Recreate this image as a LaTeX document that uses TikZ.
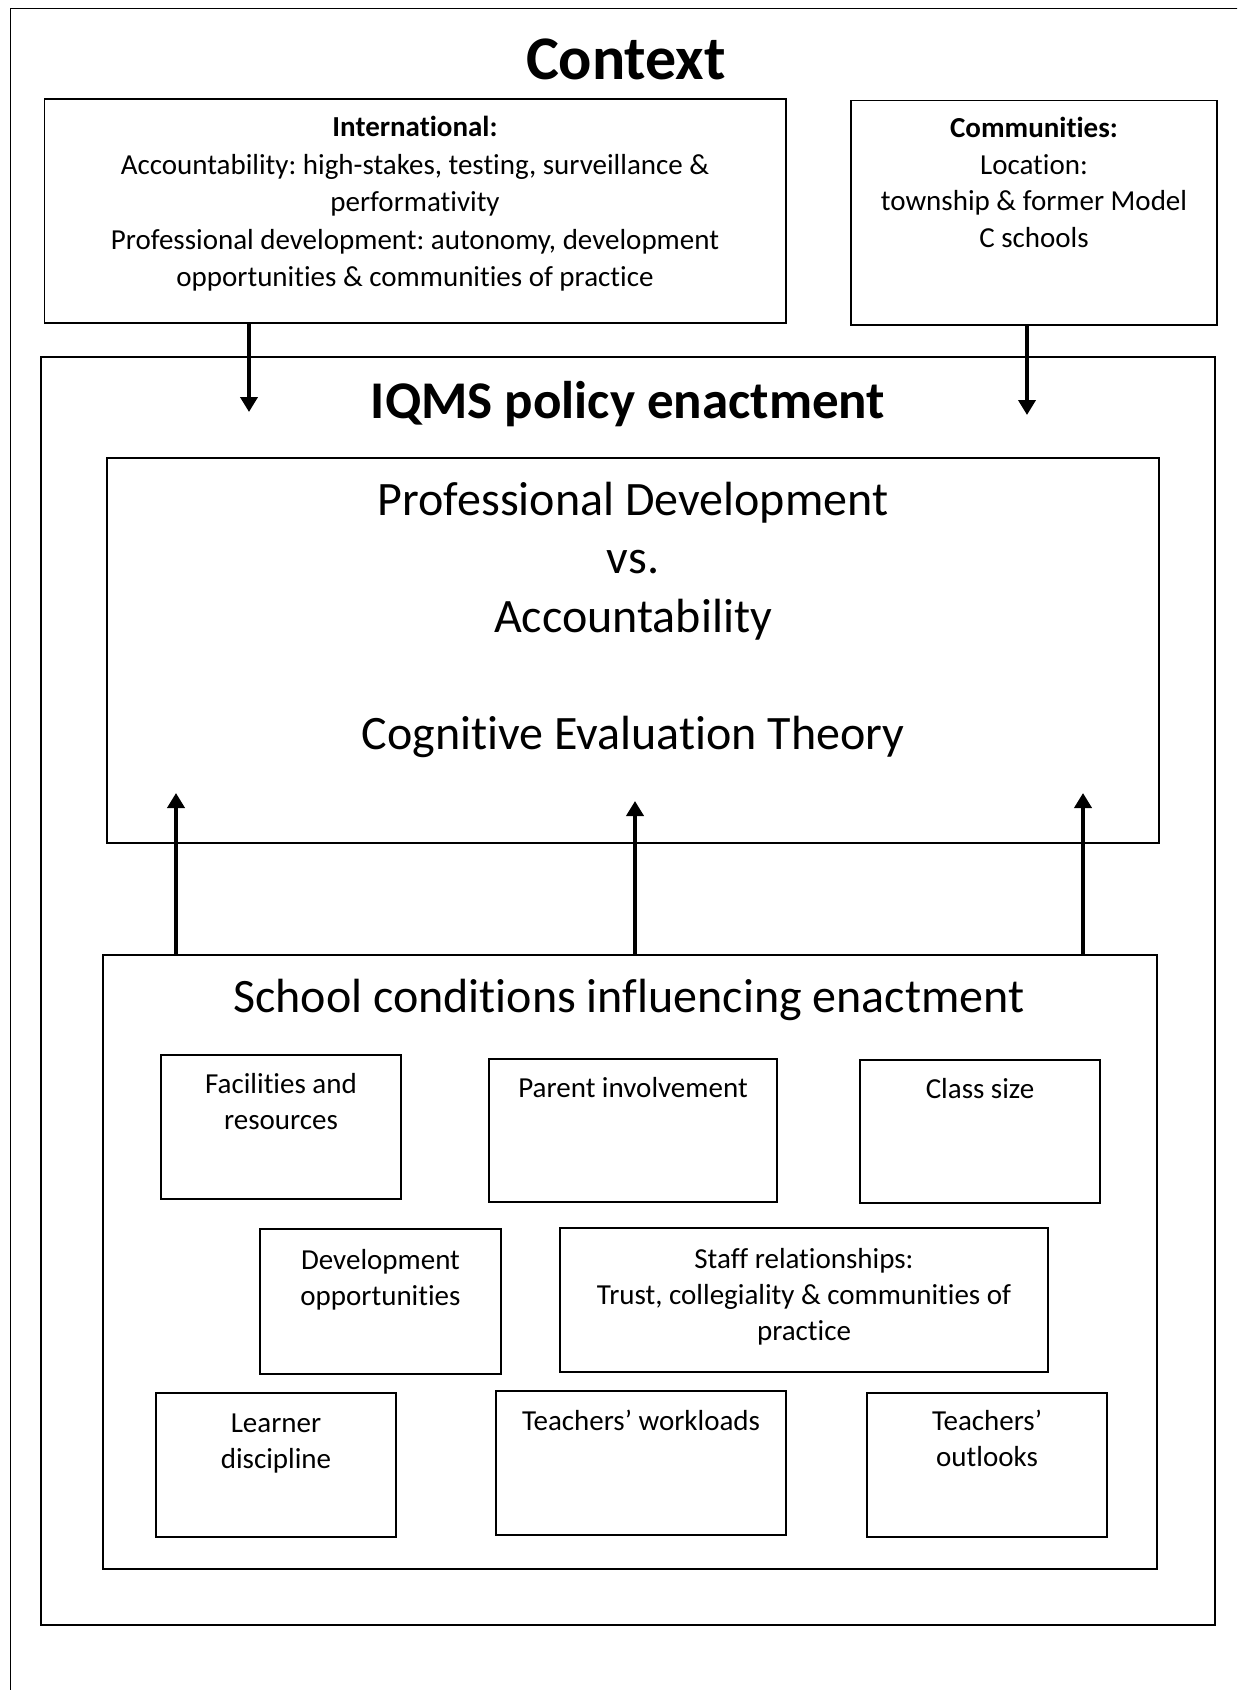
\documentclass[tikz,border=0pt]{standalone}
\usepackage{fontspec}
\setmainfont[Ligatures=CommonOff]{Carlito}
\usetikzlibrary{arrows.meta}
\frenchspacing

\begin{document}
\begin{tikzpicture}[x=0.5pt, y=-0.5pt,
  box/.style = {draw, line width=0.8pt, inner sep=0pt, outer sep=0pt, anchor=north west},
  txt/.style = {anchor=base, align=center, inner sep=0pt, font=\fontsize{14.5}{18}\selectfont},
  big/.style = {anchor=base, align=center, inner sep=0pt, font=\fontsize{24}{29.25}\selectfont},
  head/.style = {anchor=base, inner sep=0pt, font=\bfseries\fontsize{#1}{#1}\selectfont},
  arr/.style = {line width=2.4pt, -{Triangle[length=7.5pt,width=8.5pt]}}]
\useasboundingbox (0,0) rectangle (1237,1690);
\clip (0,0) rectangle (1237,1690);
\draw[line width=0.8pt] (10.5,8.5) rectangle (1300,1750);

\node[head=31] (ctx) at (626,80) {Context};
\node[box, minimum width=370.75pt, minimum height=112pt] (intl) at (44.5,99) {};
\node[txt, font=\fontsize{14.5}{18.75}\selectfont] (intltxt) at (415,287) {\textbf{International:}\\Accountability: high-stakes, testing, surveillance \&\\performativity\\Professional development: autonomy, development\\opportunities \& communities of practice};
\node[box, minimum width=183pt, minimum height=112.25pt] (comm) at (851,100.5) {};
\node[txt, font=\fontsize{14.5}{18.25}\selectfont] (commtxt) at (1034,247.5) {\textbf{Communities:}\\Location:\\township \& former Model\\C schools};

\node[box, minimum width=587pt, minimum height=634pt] (iqms) at (41,357) {};
\node[head=26.5] (iqmstxt) at (628,418) {IQMS policy enactment};
\coordinate (d1) at (249,412);
\coordinate (d2) at (1027,415);
\draw[arr] (intl.south -| d1) -- (d1);
\draw[arr] (comm.south -| d2) -- (d2);

\node[box, minimum width=526pt, minimum height=192.5pt] (pd) at (107,458) {};
\node[big] (pdtxt) at (633,749) {Professional Development\\vs.\\Accountability\\[29.25pt]Cognitive Evaluation Theory};

\node[box, minimum width=527pt, minimum height=307pt] (school) at (103,955) {};
\node[big] (schooltxt) at (629,1012) {School conditions influencing enactment};
\coordinate (u1) at (176,793);
\coordinate (u2) at (635,801);
\coordinate (u3) at (1083,793);
\foreach \u in {u1,u2,u3}
  \draw[arr] (school.north -| \u) -- (\u);

\node[box, minimum width=120pt, minimum height=72pt] (fac) at (161,1055) {};
\node[txt] (factxt) at (281,1129) {Facilities and\\resources};
\node[box, minimum width=144pt, minimum height=71.5pt] (par) at (489,1059) {};
\node[txt] (partxt) at (633,1097) {Parent involvement};
\node[box, minimum width=120pt, minimum height=71.5pt] (cls) at (860,1060) {};
\node[txt] (clstxt) at (980,1098) {Class size};
\node[box, minimum width=120.5pt, minimum height=72.5pt] (dev) at (260,1229) {};
\node[txt] (devtxt) at (380.5,1305) {Development\\opportunities};
\node[box, minimum width=244pt, minimum height=72pt] (staff) at (560,1228) {};
\node[txt] (stafftxt) at (804,1340) {Staff relationships:\\Trust, collegiality \& communities of\\practice};
\node[box, minimum width=120pt, minimum height=72pt] (lrn) at (156,1393) {};
\node[txt] (lrntxt) at (276,1468) {Learner\\discipline};
\node[box, minimum width=145pt, minimum height=72pt] (work) at (496,1391) {};
\node[txt] (worktxt) at (641,1430) {Teachers’ workloads};
\node[box, minimum width=120pt, minimum height=72pt] (outl) at (867,1393) {};
\node[txt] (outltxt) at (987,1466) {Teachers’\\outlooks};
\end{tikzpicture}
\end{document}
